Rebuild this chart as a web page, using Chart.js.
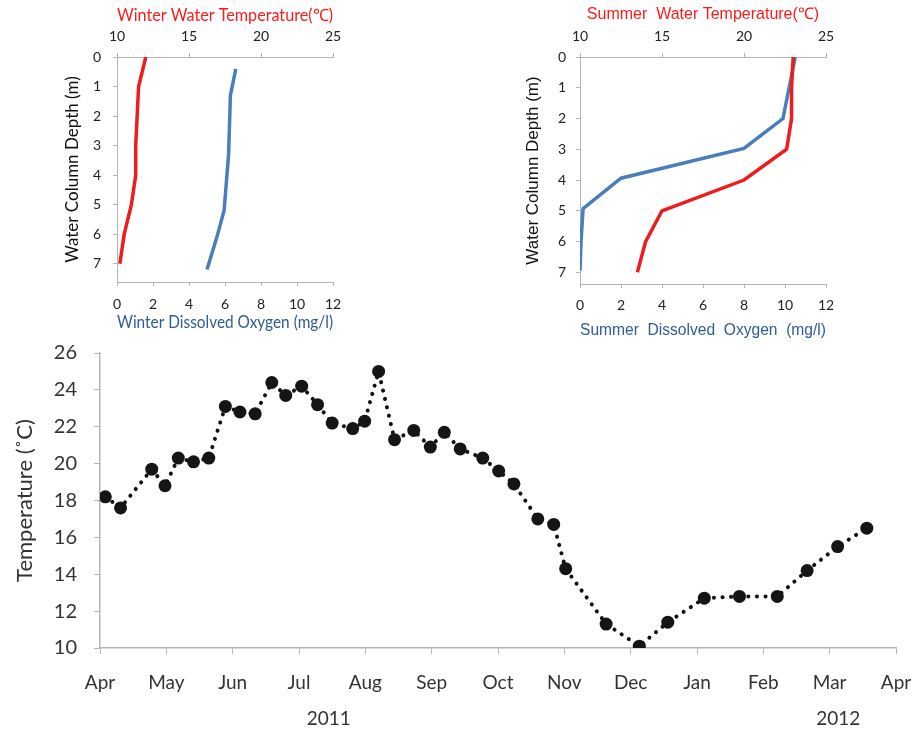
<!DOCTYPE html>
<html>
<head>
<meta charset="utf-8">
<title>Water temperature and dissolved oxygen</title>
<script src="https://cdn.jsdelivr.net/npm/chart.js@4.4.1/dist/chart.umd.min.js"></script>
<style>
    body { margin: 0; background: #fff; }
    .panel { position: absolute; }
    #winterBox { left: 0; top: 0; }
    #summerBox { left: 500px; top: 0; }
    #seasonBox { left: 0; top: 340px; }
</style>
</head>
<body>
<div class="panel" id="winterBox"><canvas id="winterChart" width="360" height="340"></canvas></div>
<div class="panel" id="summerBox"><canvas id="summerChart" width="360" height="340"></canvas></div>
<div class="panel" id="seasonBox"><canvas id="seasonChart" width="917" height="394"></canvas></div>
<script>
// Winter profile
const winterDepth = [0, 1, 2, 3, 4, 5, 6, 7];
const winterTemp = [12.0, 11.5, 11.4, 11.3, 11.3, 11.0, 10.5, 10.2];
const winterDODepth = [0.4, 1.3, 3.3, 5.2, 6.1, 7.2];
const winterDO = [6.6, 6.3, 6.2, 5.95, 5.55, 5.0];

// Summer profile
const summerDepth = [0, 1, 2, 3, 4, 5, 6, 7];
const summerTemp = [23.0, 22.9, 22.9, 22.6, 20.0, 15.0, 14.0, 13.5];
const summerDODepth = [0, 1, 2, 2.97, 3.94, 4.93, 6, 6.95];
const summerDO = [10.5, 10.2, 9.9, 8.0, 2.0, 0.15, 0.05, 0.0];

// Seasonal surface temperature (x = months since 1 Apr 2011)
const sampleMonth = [0.08, 0.31, 0.78, 0.98, 1.18, 1.41, 1.64, 1.89, 2.11, 2.34,
    2.59, 2.80, 3.04, 3.28, 3.50, 3.81, 3.99, 4.20, 4.44, 4.73,
    4.98, 5.19, 5.43, 5.77, 6.01, 6.24, 6.60, 6.84, 7.02, 7.63,
    8.13, 8.56, 9.11, 9.64, 10.21, 10.66, 11.12, 11.56];
const sampleTemp = [18.2, 17.6, 19.7, 18.8, 20.3, 20.1, 20.3, 23.1, 22.8, 22.7,
    24.4, 23.7, 24.2, 23.2, 22.2, 21.9, 22.3, 25.0, 21.3, 21.8,
    20.9, 21.7, 20.8, 20.3, 19.6, 18.9, 17.0, 16.7, 14.3, 11.3,
    10.1, 11.4, 12.7, 12.8, 12.8, 14.2, 15.5, 16.5];
const monthLabels = ['Apr', 'May', 'Jun', 'Jul', 'Aug', 'Sep', 'Oct', 'Nov', 'Dec', 'Jan', 'Feb', 'Mar', 'Apr'];

const RED = '#ee1c1c';
const BLUE = '#4a7ebb';
const AXIS_GREY = '#b4b4b4';

function toPoints(xs, ys) {
    return xs.map((x, i) => ({ x: x, y: ys[i] }));
}

// fix the size of an axis box so the plot area lands where we want it
function fixSize(size) {
    return scale => {
        if (scale.isHorizontal()) {
            scale.height = size;
            scale.paddingLeft = 0;
            scale.paddingRight = 0;
        } else {
            scale.width = size;
            scale.paddingTop = 0;
            scale.paddingBottom = 0;
        }
    };
}

function axisGrid(len) {
    return { display: true, drawOnChartArea: false, drawTicks: true, tickLength: len, color: AXIS_GREY };
}

function profileChart(canvasId, cfg) {
    const ctx = document.getElementById(canvasId).getContext('2d');
    const tickFont = { family: 'Lato', size: 14 };
    return new Chart(ctx, {
        type: 'scatter',
        data: {
            datasets: [{
                label: 'Temperature',
                data: toPoints(cfg.temp, cfg.depth),
                xAxisID: 'xT',
                showLine: true,
                borderColor: RED,
                borderWidth: 3.5,
                pointRadius: 0
            }, {
                label: 'Dissolved oxygen',
                data: toPoints(cfg.oxygen, cfg.oxygenDepth),
                xAxisID: 'xO',
                showLine: true,
                borderColor: BLUE,
                borderWidth: 3.5,
                pointRadius: 0
            }]
        },
        options: {
            responsive: false,
            animation: false,
            layout: { padding: { top: 0, left: 0, bottom: 0, right: cfg.padRight } },
            plugins: { legend: { display: false }, tooltip: { enabled: false } },
            scales: {
                xT: {
                    type: 'linear',
                    position: 'top',
                    min: 10, max: 25,
                    afterFit: fixSize(57),
                    grid: axisGrid(4),
                    border: { color: AXIS_GREY },
                    ticks: { stepSize: 5, padding: 8, color: '#222', font: tickFont },
                    title: {
                        display: true, text: cfg.tempTitle, color: '#ff1a1a',
                        padding: { top: 5 }, font: { family: cfg.titleFont, size: cfg.titleSize }
                    }
                },
                xO: {
                    type: 'linear',
                    position: 'bottom',
                    min: 0, max: 12,
                    afterFit: fixSize(cfg.bottomH),
                    grid: axisGrid(4),
                    border: { color: AXIS_GREY },
                    ticks: { stepSize: 2, padding: cfg.bottomTickPad, color: '#222', font: tickFont },
                    title: {
                        display: true, text: cfg.oxygenTitle, color: '#2f5b97',
                        padding: { bottom: cfg.bottomTitlePad }, font: { family: cfg.titleFont, size: cfg.titleSize }
                    }
                },
                y: {
                    type: 'linear',
                    reverse: true,
                    min: 0, max: cfg.depthMax,
                    afterFit: fixSize(cfg.leftW),
                    grid: axisGrid(4),
                    border: { color: AXIS_GREY },
                    ticks: { stepSize: 1, includeBounds: false, padding: cfg.leftTickPad, color: '#222', font: tickFont },
                    title: {
                        display: true, text: 'Water Column Depth (m)', color: '#111',
                        padding: { top: cfg.yTitlePad }, font: { family: cfg.titleFont, size: cfg.yTitleSize }
                    }
                }
            }
        }
    });
}

profileChart('winterChart', {
    depth: winterDepth, temp: winterTemp,
    oxygenDepth: winterDODepth, oxygen: winterDO,
    tempTitle: 'Winter Water Temperature(\u2103)',
    oxygenTitle: 'Winter Dissolved Oxygen (mg/l)',
    titleFont: 'Lato', titleSize: 17, yTitleSize: 17,
    depthMax: 7.62, leftW: 117, padRight: 27, bottomH: 58,
    bottomTickPad: 10, bottomTitlePad: 7, leftTickPad: 12, yTitlePad: 62
});

profileChart('summerChart', {
    depth: summerDepth, temp: summerTemp,
    oxygenDepth: summerDODepth, oxygen: summerDO,
    tempTitle: 'Summer  Water Temperature(\u2103)',
    oxygenTitle: 'Summer  Dissolved  Oxygen  (mg/l)',
    titleFont: 'Liberation Sans', titleSize: 16, yTitleSize: 17,
    depthMax: 7.38, leftW: 80, padRight: 34, bottomH: 56,
    bottomTickPad: 9, bottomTitlePad: 0, leftTickPad: 10, yTitlePad: 23
});

// Year labels under the month axis
const yearLabels = {
    id: 'yearLabels',
    afterDraw(chart) {
        const x = chart.scales.x;
        const ctx = chart.ctx;
        ctx.save();
        ctx.font = '19px Lato';
        ctx.fillStyle = '#333';
        ctx.textAlign = 'center';
        ctx.textBaseline = 'middle';
        ctx.fillText('2011', x.getPixelForValue(3.45), x.bottom - 15);
        ctx.fillText('2012', x.getPixelForValue(11.13), x.bottom - 15);
        ctx.restore();
    }
};

const seasonCtx = document.getElementById('seasonChart').getContext('2d');
new Chart(seasonCtx, {
    type: 'scatter',
    data: {
        datasets: [{
            label: 'Temperature',
            data: toPoints(sampleMonth, sampleTemp),
            showLine: true,
            borderColor: '#111',
            borderWidth: 4,
            borderDash: [0.1, 8.5],
            borderCapStyle: 'round',
            pointRadius: 6.5,
            pointBackgroundColor: '#151515',
            pointBorderWidth: 0,
            tension: 0
        }]
    },
    options: {
        responsive: false,
        animation: false,
        layout: { padding: { top: 13, left: 0, bottom: 0, right: 21 } },
        plugins: { legend: { display: false }, tooltip: { enabled: false } },
        scales: {
            x: {
                type: 'linear',
                min: 0, max: 12,
                afterFit: fixSize(86),
                grid: axisGrid(6),
                border: { color: AXIS_GREY, width: 1.5 },
                ticks: {
                    stepSize: 1, autoSkip: false, maxRotation: 0, padding: 17,
                    color: '#333', font: { family: 'Lato', size: 19 },
                    callback: value => monthLabels[value]
                }
            },
            y: {
                type: 'linear',
                min: 10, max: 26,
                afterFit: fixSize(100),
                grid: axisGrid(6),
                border: { color: AXIS_GREY, width: 1.5 },
                ticks: { stepSize: 2, padding: 17, color: '#333', font: { family: 'Lato', size: 20 } },
                title: {
                    display: true, text: 'Temperature (\u02DAC)', color: '#333',
                    padding: { top: 12 }, font: { family: 'Lato', size: 22 }
                }
            }
        }
    },
    plugins: [yearLabels]
});
</script>
</body>
</html>
